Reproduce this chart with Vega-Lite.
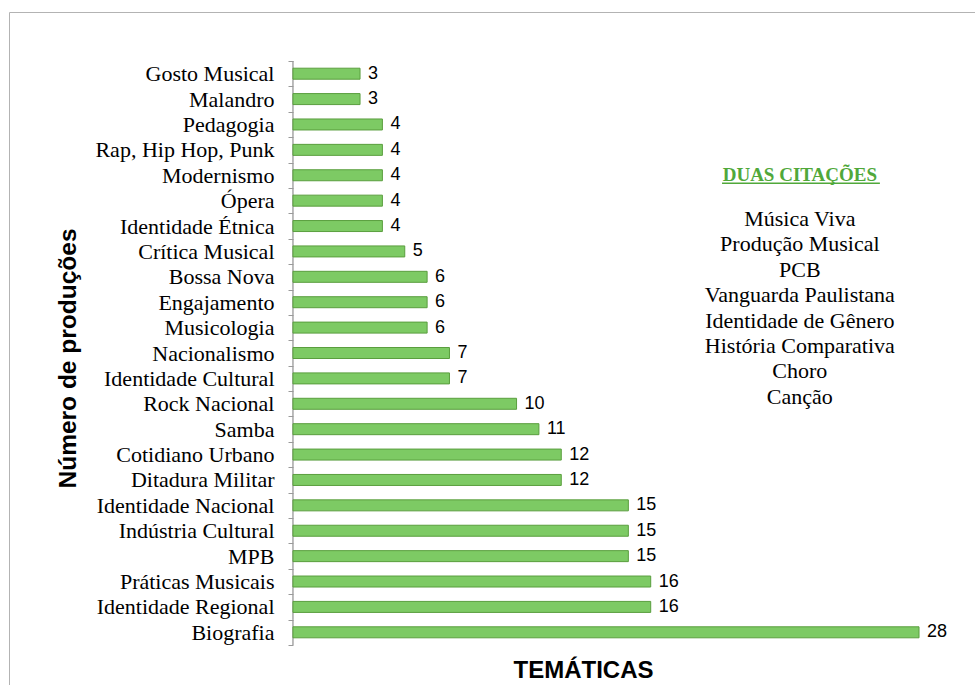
{
  "$schema": "https://vega.github.io/schema/vega-lite/v6.json",
  "autosize": {"type": "none"},
  "width": 980,
  "height": 682,
  "padding": {"left": 9, "top": 12, "right": -14, "bottom": -9},
  "background": "white",
  "config": {
    "font": "Liberation Serif",
    "view": {"stroke": "#b3b3b3", "strokeWidth": 1},
    "axis": {"grid": false, "labelFont": "Liberation Serif"},
    "axisY": {
      "titleFont": "Liberation Sans", "titleFontSize": 24.5, "titleFontWeight": "bold", "titleColor": "black",
      "titleX": -218, "titleY": 346, "titleAngle": 270, "titleAlign": "center", "titleBaseline": "alphabetic",
      "labelFont": "Liberation Serif", "labelFontSize": 22, "labelColor": "black", "labelPadding": 14, "labelLimit": 400,
      "domain": false, "offset": -284
    },
    "axisX": {
      "titleFont": "Liberation Sans", "titleFontSize": 24, "titleFontWeight": "bold", "titleColor": "black",
      "titleX": 574, "titleY": -17, "titleAlign": "center", "titleBaseline": "alphabetic",
      "labels": false, "ticks": false, "domain": false, "grid": false
    }
  },
  "data": {"values": [
    {"tema": "Gosto Musical", "n": 3},
    {"tema": "Malandro", "n": 3},
    {"tema": "Pedagogia", "n": 4},
    {"tema": "Rap, Hip Hop, Punk", "n": 4},
    {"tema": "Modernismo", "n": 4},
    {"tema": "Ópera", "n": 4},
    {"tema": "Identidade Étnica", "n": 4},
    {"tema": "Crítica Musical", "n": 5},
    {"tema": "Bossa Nova", "n": 6},
    {"tema": "Engajamento", "n": 6},
    {"tema": "Musicologia", "n": 6},
    {"tema": "Nacionalismo", "n": 7},
    {"tema": "Identidade Cultural", "n": 7},
    {"tema": "Rock Nacional", "n": 10},
    {"tema": "Samba", "n": 11},
    {"tema": "Cotidiano Urbano", "n": 12},
    {"tema": "Ditadura Militar", "n": 12},
    {"tema": "Identidade Nacional", "n": 15},
    {"tema": "Indústria Cultural", "n": 15},
    {"tema": "MPB", "n": 15},
    {"tema": "Práticas Musicais", "n": 16},
    {"tema": "Identidade Regional", "n": 16},
    {"tema": "Biografia", "n": 28}
  ]},
  "layer": [
    {
      "mark": {"type": "rect", "fill": null, "stroke": "#a6a6a6", "strokeWidth": 1},
      "encoding": {
        "y": {"field": "tema", "type": "nominal", "sort": null},
        "x": {"datum": 0, "type": "quantitative"},
        "x2": {"datum": 0}
      }
    },
    {
      "mark": {"type": "bar", "size": 11, "fill": "#7dca64", "stroke": "#5a9e3e", "strokeWidth": 1},
      "encoding": {
        "y": {
          "field": "tema", "type": "nominal", "sort": null,
          "scale": {"domain": ["Gosto Musical", "Malandro", "Pedagogia", "Rap, Hip Hop, Punk", "Modernismo", "Ópera", "Identidade Étnica", "Crítica Musical", "Bossa Nova", "Engajamento", "Musicologia", "Nacionalismo", "Identidade Cultural", "Rock Nacional", "Samba", "Cotidiano Urbano", "Ditadura Militar", "Identidade Nacional", "Indústria Cultural", "MPB", "Práticas Musicais", "Identidade Regional", "Biografia"], "paddingInner": 0, "paddingOuter": 0, "range": [49, 633]},
          "axis": {
            "title": "Número de produções", "labelFont": "Liberation Serif",
            "ticks": true, "tickSize": 5, "tickColor": "#9a9a9a", "tickWidth": 1, "tickOpacity": 1,
            "tickBand": "extent", "zindex": 5
          }
        },
        "x": {
          "field": "n", "type": "quantitative",
          "scale": {"domain": [-12.7, 31.13], "nice": false, "zero": false},
          "axis": {"title": "TEMÁTICAS"}
        },
        "x2": {"datum": 0}
      }
    },
    {
      "mark": {"type": "text", "align": "left", "baseline": "middle", "dx": 8, "font": "Liberation Sans", "fontSize": 18, "color": "black"},
      "encoding": {
        "y": {"field": "tema", "type": "nominal", "sort": null},
        "x": {"field": "n", "type": "quantitative"},
        "text": {"field": "n", "type": "quantitative"}
      }
    },
    {
      "data": {"values": [{"titulo": "DUAS CITAÇÕES", "pos": "Modernismo", "xc": 22.67}]},
      "mark": {"type": "text", "align": "center", "baseline": "alphabetic", "dy": 6, "font": "Liberation Serif", "fontSize": 19, "fontWeight": "bold", "color": "#50a83a"},
      "encoding": {
        "x": {"field": "xc", "type": "quantitative"},
        "y": {"field": "pos", "type": "nominal", "sort": null},
        "text": {"field": "titulo"}
      }
    },
    {
      "data": {"values": [{"pos": "Modernismo", "x1": 19.19, "x2": 26.25}]},
      "mark": {"type": "rule", "color": "#50a83a", "strokeWidth": 1.5, "yOffset": 8},
      "encoding": {
        "x": {"field": "x1", "type": "quantitative"},
        "x2": {"field": "x2"},
        "y": {"field": "pos", "type": "nominal", "sort": null}
      }
    },
    {
      "data": {"values": [{"pos": "Identidade Étnica", "xc": 22.67, "itens": ["Música Viva", "Produção Musical", "PCB", "Vanguarda Paulistana", "Identidade de Gênero", "História Comparativa", "Choro", "Canção"]}]},
      "mark": {"type": "text", "align": "center", "baseline": "alphabetic", "lineHeight": 25.4, "font": "Liberation Serif", "fontSize": 22, "color": "black"},
      "encoding": {
        "x": {"field": "xc", "type": "quantitative"},
        "y": {"field": "pos", "type": "nominal", "sort": null},
        "text": {"field": "itens"}
      }
    }
  ]
}
